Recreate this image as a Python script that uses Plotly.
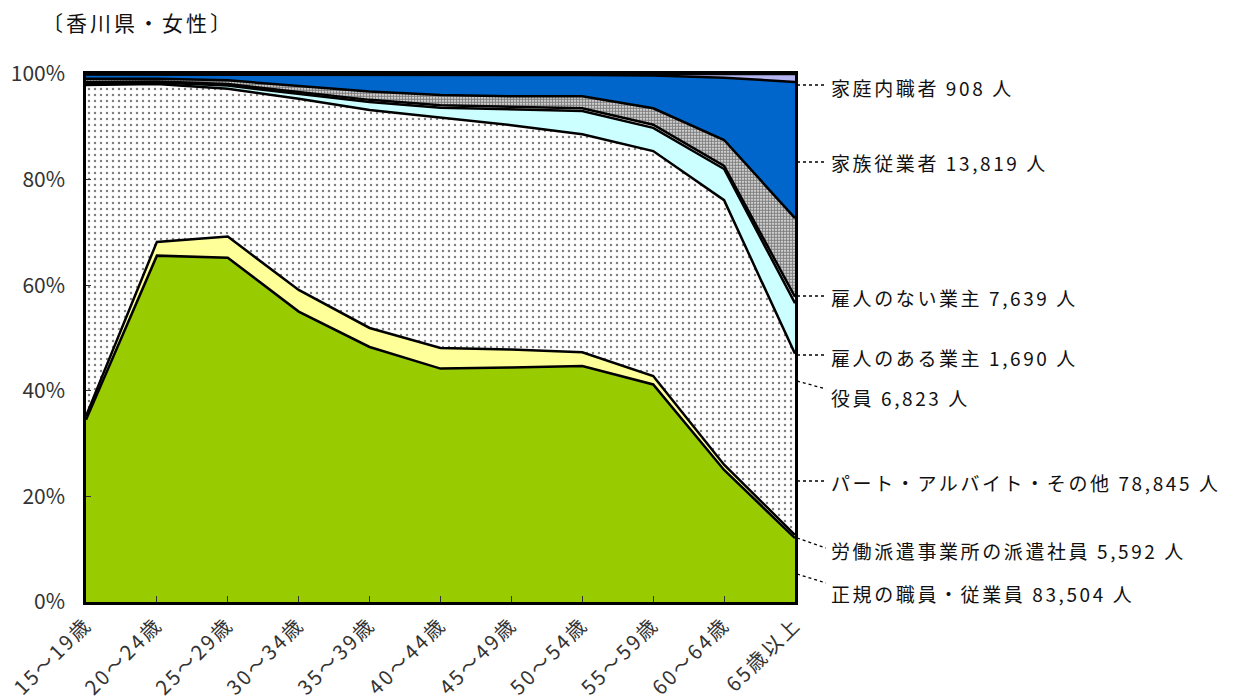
import plotly.graph_objects as go

ages = ["15～19歳", "20～24歳", "25～29歳", "30～34歳", "35～39歳", "40～44歳",
        "45～49歳", "50～54歳", "55～59歳", "60～64歳", "65歳以上"]

# percent shares by age group
seiki    = [34.5, 65.6, 65.2, 55.0, 48.3, 44.2, 44.4, 44.7, 41.2, 25.0, 12.1]
haken    = [0.7, 2.6, 4.0, 4.1, 3.6, 3.9, 3.4, 2.6, 1.6, 1.0, 0.6]
part     = [62.7, 29.9, 28.0, 36.2, 41.3, 43.6, 42.5, 41.3, 42.6, 50.1, 34.3]
yakuin   = [0.3, 0.3, 0.6, 1.0, 1.5, 1.9, 3.0, 4.4, 4.4, 5.9, 9.6]
aru      = [0.3, 0.2, 0.3, 0.3, 0.4, 0.5, 0.5, 0.5, 0.6, 0.6, 1.2]
nai      = [0.6, 0.5, 0.7, 1.2, 1.6, 1.9, 2.0, 2.3, 3.1, 4.9, 14.9]
kazoku   = [0.8, 0.8, 1.1, 2.1, 3.2, 3.9, 4.1, 4.0, 6.2, 11.8, 25.8]
naishoku = [0.1, 0.1, 0.1, 0.1, 0.1, 0.1, 0.1, 0.2, 0.3, 0.7, 1.5]

labels = ["正規の職員・従業員", "労働派遣事業所の派遣社員", "パート・アルバイト・その他", "役員",
          "雇人のある業主", "雇人のない業主", "家族従業者", "家庭内職者"]
totals = ["83,504", "5,592", "78,845", "6,823", "1,690", "7,639", "13,819", "908"]

yticks = [0, 20, 40, 60, 80, 100]
ytick_text = ["0%", "20%", "40%", "60%", "80%", "100%"]

series = [seiki, haken, part, yakuin, aru, nai, kazoku, naishoku]
fills = ["#99CC00", "#FFFF99", "#FFFFFF", "#CCFFFF", "#FFFFFF", "#FFFFFF", "#0066CC", "#B4B4F0"]
patterns = [None, None,
            dict(shape=".", bgcolor="#FFFFFF", fgcolor="#000000", size=6, solidity=0.13),
            None, None,
            dict(shape=".", bgcolor="#FFFFFF", fgcolor="#000000", size=3, solidity=0.7),
            None, None]

def spaced(t, ls):
    return f'<span style="letter-spacing:{ls}px">{t}</span>'

fig = go.Figure()
for name, vals, fc, pat in zip(labels, series, fills, patterns):
    kw = dict(x=ages, y=vals, name=name, mode="lines", stackgroup="one", groupnorm="percent",
              line=dict(color="#000000", width=2.5), fillcolor=fc, hoverinfo="skip")
    if pat:
        kw["fillpattern"] = pat
    fig.add_trace(go.Scatter(**kw))

# pixel geometry of plot area
X0, X1, Y0, Y1 = 86, 795, 602, 74
def px(x):
    return (x - X0) / (X1 - X0)
def py(y):
    return (Y0 - y) / (Y0 - Y1)

# label positions (pixel y centre) and leader lines
label_y = [593, 550, 482, 397, 357, 297, 162, 87]
leaders = [((797, 574), (826, 583)), ((797, 538), (826, 548)), ((797, 481), (826, 481)),
           ((797, 381), (826, 389)), ((797, 355), (826, 355)), ((797, 296), (826, 296)),
           ((797, 162), (826, 162)), ((797, 85), (826, 85))]

annotations = []
shapes = []
for lab, tot, yy, ((ax, ay), (bx, by)) in zip(labels, totals, label_y, leaders):
    annotations.append(dict(text=spaced(f"{lab} {tot} 人", 2.6), xref="paper", yref="paper",
                            x=px(829), y=py(yy), xanchor="left", yanchor="middle", showarrow=False,
                            font=dict(size=19, color="#111111")))
    shapes.append(dict(type="line", xref="paper", yref="paper", x0=px(ax), y0=py(ay),
                       x1=px(bx), y1=py(by), line=dict(color="#000000", width=1.3, dash="dot")))

annotations.append(dict(text=spaced("〔香川県・女性〕", 3), xref="paper", yref="paper",
                        x=px(40), y=py(22), xanchor="left", yanchor="middle", showarrow=False,
                        font=dict(size=21, color="#111111")))

fig.update_layout(
    width=1235, height=700,
    margin=dict(l=X0, r=1235 - X1, t=Y1, b=700 - Y0),
    paper_bgcolor="#FFFFFF", plot_bgcolor="#FFFFFF",
    showlegend=False,
    font=dict(family="Noto Sans CJK JP", color="#333333"),
    annotations=annotations, shapes=shapes,
    xaxis=dict(type="category", range=[0, 10], showgrid=False, zeroline=False, automargin=False,
               tickvals=ages, ticktext=[spaced(a, 2.5) for a in ages],
               showline=True, linecolor="#000000", linewidth=3, mirror=True,
               ticks="inside", ticklen=6, tickcolor="#333333", tickwidth=1,
               tickangle=-45, tickfont=dict(size=20, color="#333333")),
    yaxis=dict(range=[0, 100], tickvals=yticks, ticktext=ytick_text, automargin=False,
               showgrid=False, zeroline=False,
               showline=True, linecolor="#000000", linewidth=2.5, mirror=True,
               ticks="inside", ticklen=5, tickcolor="#333333", tickwidth=1,
               ticklabelstandoff=14, tickfont=dict(size=21, color="#333333")),
)

fig.write_html("out.html", config={"displayModeBar": False},
               post_script="document.body.style.margin='0';document.body.style.overflow='hidden';")
